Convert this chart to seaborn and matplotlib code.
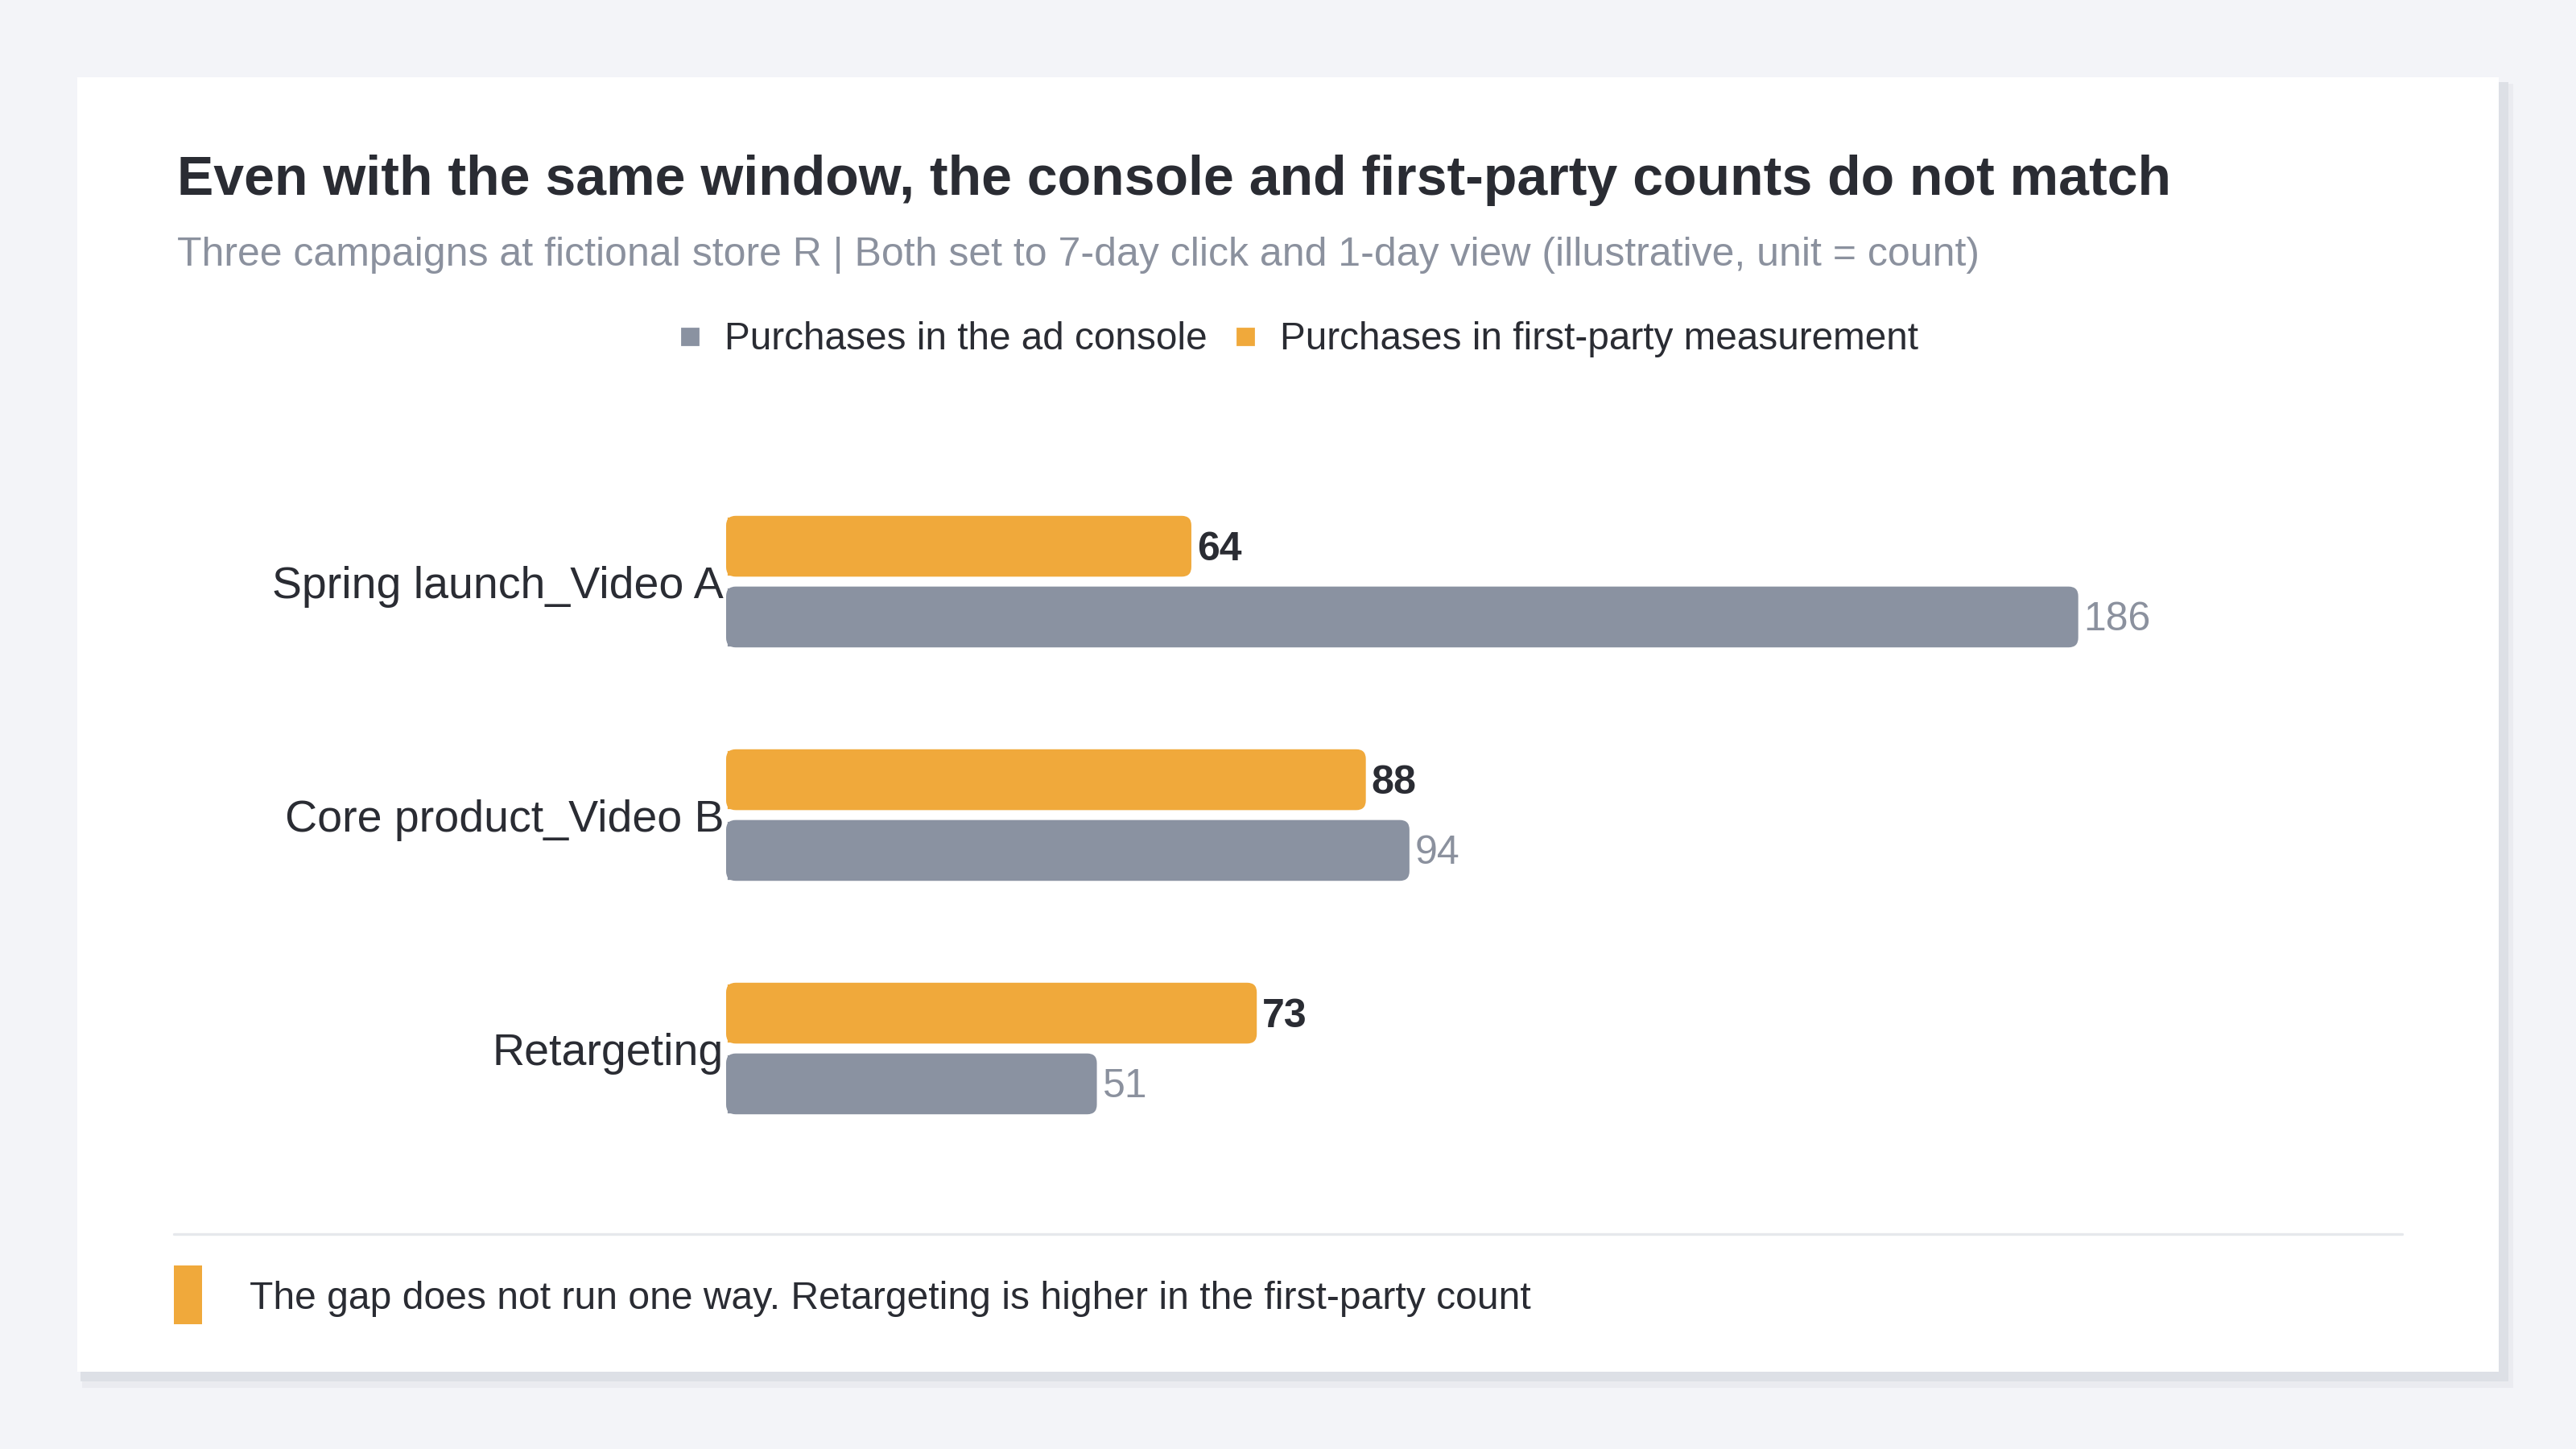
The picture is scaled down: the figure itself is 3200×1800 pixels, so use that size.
import pandas as pd
import seaborn as sns
import matplotlib.pyplot as plt
from matplotlib.patches import FancyBboxPatch, Rectangle
from matplotlib.lines import Line2D

# data
campaigns = ["Spring launch_Video A", "Core product_Video B", "Retargeting"]
console = [186, 94, 51]
first_party = [64, 88, 73]
series_names = ["Purchases in the ad console", "Purchases in first-party measurement"]

title = "Even with the same window, the console and first-party counts do not match"
subtitle = ("Three campaigns at fictional store R | Both set to 7-day click and 1-day view "
            "(illustrative, unit = count)")
note = "The gap does not run one way. Retargeting is higher in the first-party count"

BG = "#f3f4f8"
ORANGE = "#f0a93b"
GRAY = "#8a92a1"
DARK = "#2a2c33"
SUB = "#8b919e"

W, H = 3200, 1800

sns.set_theme(style="white")
plt.rcParams['font.family'] = ['Liberation Sans', 'DejaVu Sans']

df = pd.DataFrame({
    "campaign": campaigns * 2,
    "series": [series_names[1]] * 3 + [series_names[0]] * 3,
    "count": first_party + console,
})

fig = plt.figure(figsize=(16, 9), dpi=200, facecolor=BG)


def px_rect(x0, y0, x1, y1, **kw):
    r = Rectangle((x0 / W, 1 - y1 / H), (x1 - x0) / W, (y1 - y0) / H,
                  transform=fig.transFigure, **kw)
    fig.add_artist(r)
    return r


# card with soft shadow
px_rect(102, 104, 3122, 1724, fc="#eaebf0", ec="none", zorder=-12)
px_rect(100, 102, 3116, 1716, fc="#dde0e6", ec="none", zorder=-11)
px_rect(96, 96, 3104, 1704, fc="white", ec="none", zorder=-10)

# plot area
ax_left, ax_right = 902, 2979
ax_top, ax_bot = 577.5, 1447.5
ax = fig.add_axes([ax_left / W, 1 - ax_bot / H, (ax_right - ax_left) / W, (ax_bot - ax_top) / H])
ax.patch.set_visible(False)

sns.barplot(data=df, y="campaign", x="count", hue="series",
            hue_order=[series_names[1], series_names[0]],
            palette=[ORANGE, GRAY], orient="h", width=0.606, gap=0.14,
            saturation=1, legend=False, ax=ax)

xmax = 230
ax.set_xlim(0, xmax)
ax.set_ylim(2.5, -0.5)
for s in ax.spines.values():
    s.set_visible(False)
ax.set_xticks([])
ax.set_xlabel("")
ax.set_ylabel("")
ax.tick_params(axis="y", length=0, pad=1, labelsize=20, labelcolor=DARK)

# rounded right ends
px_per_x = (ax_right - ax_left) / xmax
px_per_y = (ax_bot - ax_top) / 3
r_x = 12 / px_per_x
aspect = px_per_x / px_per_y
colors = [ORANGE, GRAY]
for ci, cont in enumerate(ax.containers):
    for bar in cont:
        x0, w = bar.get_x(), bar.get_width()
        y0, h = bar.get_y(), bar.get_height()
        if h < 0:
            y0, h = y0 + h, -h
        bar.set_width(w - r_x)
        rb = FancyBboxPatch((x0, y0), w, h,
                            boxstyle=f"round,pad=0,rounding_size={r_x}",
                            mutation_aspect=aspect, fc=colors[ci], ec="none", zorder=bar.get_zorder())
        ax.add_patch(rb)
        yc = y0 + h / 2 + 0.014
        if ci == 0:
            ax.annotate(f"{w:g}", (w, yc), xytext=(2.5, 0), textcoords="offset points",
                        va="center", ha="left", fontsize=18, fontweight="bold", color=DARK)
        else:
            ax.annotate(f"{w:g}", (w, yc), xytext=(2.5, 0), textcoords="offset points",
                        va="center", ha="left", fontsize=18, color=SUB)

# titles
fig.text(220 / W, 1 - 242 / H, title, fontsize=24.5, fontweight="bold", color=DARK,
         ha="left", va="baseline")
fig.text(220 / W, 1 - 330 / H, subtitle, fontsize=18, color=SUB, ha="left", va="baseline")

# legend
handles = [Line2D([], [], marker="s", ls="none", ms=7, color=GRAY),
           Line2D([], [], marker="s", ls="none", ms=7, color=ORANGE)]
fig.legend(handles, series_names, loc="center", bbox_to_anchor=(0.5026, 1 - 422 / H),
           ncol=2, frameon=False, fontsize=17.2, handletextpad=0.4, columnspacing=0.5,
           handlelength=1.0, labelcolor=DARK)

# divider and footer note
fig.add_artist(Line2D([216 / W, 2984 / W], [1 - 1533 / H] * 2, transform=fig.transFigure,
                      color="#e6e8ec", lw=1.2))
px_rect(216, 1572, 251, 1645, fc=ORANGE, ec="none")
fig.text(310 / W, 1 - 1614 / H, note, fontsize=17.3, color=DARK, ha="left", va="center")

fig.savefig("out.png", dpi=200, facecolor=BG)
